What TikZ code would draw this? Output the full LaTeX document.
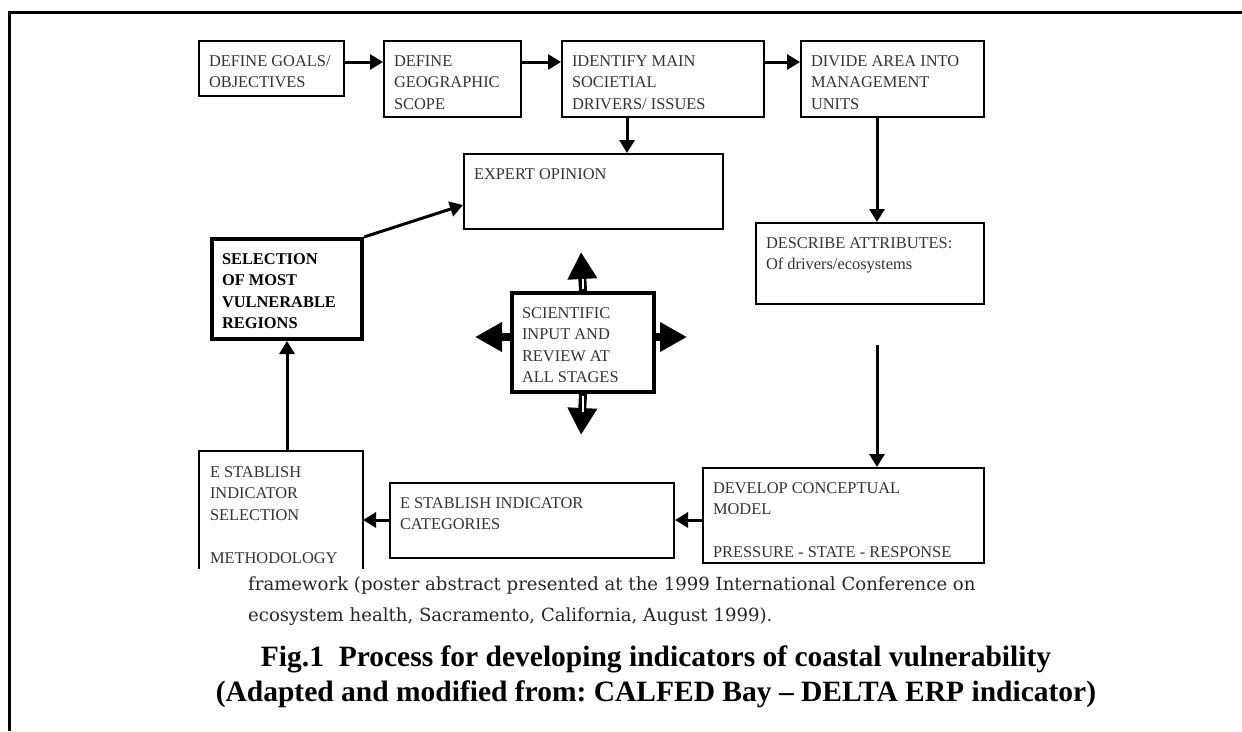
\documentclass[tikz,border=0pt]{standalone}
\usepackage{fontspec}
\setmainfont{Liberation Serif}
\newfontfamily\paperfont{DejaVu Serif}
\usetikzlibrary{arrows.meta}
\newcommand{\boxtext}[3]{\parbox[c][#2pt][t]{#1pt}{\raggedright\strut#3}}

\begin{document}
\begin{tikzpicture}[x=1pt,y=-1pt,
    box/.style={draw, line width=2pt, anchor=north west, inner xsep=10pt, inner ysep=10pt,
      font=\fontsize{16.4}{21.5}\selectfont, text=black!80},
    thickbox/.style={box, line width=4pt},
    arr/.style={line width=3pt, -{Triangle[length=13pt,width=15pt]}},
    bigarr/.style={line width=8pt, -{Triangle[length=27pt,width=28pt]}}]
  \useasboundingbox (0,0) rectangle (1242,731);
  \draw[line width=3pt] (9,731) -- (9,12) -- (1242,12);

  % top row
  \node[box] (goals) at (198,40) {\boxtext{125}{35}{DEFINE GOALS/\\OBJECTIVES}};
  \node[box] (scope) at (383,40) {\boxtext{117}{56}{DEFINE\\GEOGRAPHIC\\SCOPE}};
  \node[box] (drivers) at (561,40) {\boxtext{182}{56}{IDENTIFY MAIN\\SOCIETIAL\\DRIVERS/ ISSUES}};
  \node[box] (units) at (800,40) {\boxtext{163}{56}{DIVIDE AREA INTO\\MANAGEMENT\\UNITS}};

  % middle
  \node[box] (expert) at (463,153) {\boxtext{239}{55}{EXPERT OPINION}};
  \node[box] (attrib) at (755,222) {\boxtext{208}{61}{DESCRIBE ATTRIBUTES:\\Of drivers/ecosystems}};
  \node[thickbox, font=\fontsize{16.4}{21.5}\selectfont\bfseries, text=black] (select) at (210,237)
    {\boxtext{130}{80}{SELECTION\\OF MOST\\VULNERABLE\\REGIONS}};
  \node[thickbox] (sci) at (510,291) {\boxtext{122}{79}{SCIENTIFIC\\INPUT AND\\REVIEW AT\\ALL STAGES}};

  % bottom row
  \node[box] (model) at (702,467) {\boxtext{261}{75}{DEVELOP CONCEPTUAL\\MODEL\\[21.5pt]PRESSURE - STATE - RESPONSE}};
  \node[box] (categ) at (389,482) {\boxtext{264}{55}{E STABLISH INDICATOR\\CATEGORIES}};
  \node[box, draw=none] (method) at (199,451) {\boxtext{142}{96}{E STABLISH\\INDICATOR\\SELECTION\\[21.5pt]METHODOLOGY}};
  \draw[line width=2pt] (method.south west) -- (method.north west) -- (method.north east) -- (method.south east);

  % connectors
  \coordinate (toprow) at (0,62);
  \coordinate (rightcol) at (877,0);
  \coordinate (gaptop) at (877,345);
  \coordinate (lowrow) at (0,520);
  \coordinate (midcol) at (627,0);
  \coordinate (expertin) at (463,205);
  \draw[arr] (goals.east |- toprow) -- (scope.west |- toprow);
  \draw[arr] (scope.east |- toprow) -- (drivers.west |- toprow);
  \draw[arr] (drivers.east |- toprow) -- (units.west |- toprow);
  \draw[arr] (units.south -| rightcol) -- (attrib.north -| rightcol);
  \draw[arr] (gaptop) -- (model.north -| gaptop);
  \draw[arr] (model.west |- lowrow) -- (categ.east |- lowrow);
  \draw[arr] (categ.west |- lowrow) -- (method.east |- lowrow);
  \draw[arr] (select.south |- method.north) -- (select.south);
  \draw[arr] (select.north east) -- (expertin);
  \draw[arr] (drivers.south -| midcol) -- (expert.north -| midcol);

  % review arrows round the centre box
  \coordinate (sciup) at (581,252);
  \coordinate (scidown) at (581,435);
  \coordinate (scileft) at (475,337);
  \coordinate (sciright) at (687,337);
  \draw[bigarr] (sci.north) -- (sciup);
  \draw[bigarr] (sci.south) -- (scidown);
  \draw[bigarr] (sci.west |- scileft) -- (scileft);
  \draw[bigarr] (sci.east |- sciright) -- (sciright);
  \draw[white, line width=2.5pt] ([yshift=2pt]sci.north) -- ([yshift=12pt]sci.north);
  \draw[white, line width=2.5pt] ([yshift=-2pt]sci.south) -- ([yshift=-18pt]sci.south);

  % text under the chart
  \node[anchor=north west, inner sep=0pt, align=left, text=black!85,
    font=\paperfont\fontsize{18.1}{31}\selectfont] (note) at (248,577)
    {framework (poster abstract presented at the 1999 International Conference on\\
     ecosystem health, Sacramento, California, August 1999).};
  \node[align=center, font=\frenchspacing\bfseries\fontsize{29.5}{35}\selectfont] (caption) at (656,677)
    {Fig.1~~Process for developing indicators of coastal vulnerability\\
     (Adapted and modified from: CALFED Bay \textendash{} DELTA ERP indicator)};
\end{tikzpicture}
\end{document}
